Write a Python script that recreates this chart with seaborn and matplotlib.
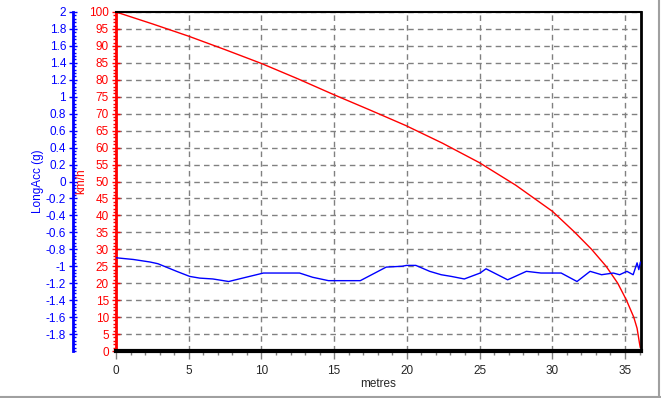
import numpy as np
import pandas as pd
import seaborn as sns
import matplotlib.pyplot as plt
from matplotlib.ticker import MultipleLocator
from matplotlib.lines import Line2D

# speed trace (km/h) vs distance
speed_m = [0, 2.5, 4.97, 7.5, 10.01, 12.5, 14.93, 17.4, 19.93, 22.45, 24.97, 27.49, 30.01,
           31.55, 32.7, 33.7, 34.5, 35.1, 35.6, 35.83, 36.0, 36.05]
speed_kmh = [100, 96.5, 92.9, 88.9, 84.8, 80.3, 75.7, 71.2, 66.5, 61.3, 55.6, 48.9, 41.2,
             35.0, 30.0, 25.0, 20.0, 15.0, 10.0, 6.7, 2.2, 1.0]

# longitudinal acceleration (g) vs distance
acc_m = [0, 1.19, 2.34, 2.88, 4.17, 5.07, 5.76, 6.66, 7.75, 8.94, 10.14, 12.62, 13.52, 14.61,
         16.8, 18.58, 19.68, 19.98, 20.62, 21.57, 22.36, 23.06, 23.95, 25.04, 25.44, 26.93,
         28.22, 29.22, 30.61, 31.7, 32.6, 33.39, 34.19, 34.63, 35.13, 35.56, 35.83, 35.95, 36.06]
acc_g = [-0.90, -0.92, -0.95, -0.97, -1.06, -1.12, -1.14, -1.15, -1.18, -1.13, -1.08, -1.08,
         -1.13, -1.17, -1.17, -1.01, -1.00, -0.99, -0.99, -1.06, -1.10, -1.12, -1.15, -1.08,
         -1.03, -1.16, -1.06, -1.08, -1.08, -1.18, -1.06, -1.10, -1.08, -1.10, -1.06, -1.10,
         -0.96, -1.04, -0.95]

acc_ticks = [-1.8, -1.6, -1.4, -1.2, -1, -0.8, -0.6, -0.4, -0.2, 0,
             0.2, 0.4, 0.6, 0.8, 1, 1.2, 1.4, 1.6, 1.8, 2]

sns.set_style('white')
plt.rcParams['font.family'] = ['Liberation Sans', 'DejaVu Sans']
plt.rcParams['font.size'] = 8.5

fig = plt.figure(figsize=(6.61, 3.98), dpi=100)
ax = fig.add_axes([116 / 661, 47 / 398, 525 / 661, 339 / 398])

speed = pd.DataFrame({'metres': speed_m, 'km/h': speed_kmh})
acc = pd.DataFrame({'metres': acc_m, 'LongAcc (g)': acc_g})

sns.lineplot(data=speed, x='metres', y='km/h', color='red', linewidth=1, ax=ax)
ax.set_xlim(0, 36.1)
ax.set_ylim(0, 100)
ax.xaxis.set_major_locator(MultipleLocator(5))
ax.xaxis.set_minor_locator(MultipleLocator(1))
ax.yaxis.set_major_locator(MultipleLocator(5))
ax.yaxis.set_minor_locator(MultipleLocator(1))
ax.grid(True, which='major', color='#808080', linestyle=(0, (4, 3)), linewidth=1)
ax.set_axisbelow(True)

ax.spines['left'].set_color('red')
ax.spines['left'].set_linewidth(2)
ax.spines['bottom'].set_linewidth(3)
ax.spines['bottom'].set_color('black')
ax.spines['top'].set_linewidth(1.5)
ax.spines['top'].set_color('black')
ax.spines['right'].set_linewidth(2)
ax.spines['right'].set_color('black')

ax.tick_params(axis='y', which='major', direction='inout', length=6, width=1,
               color='red', labelcolor='red', labelsize=8.5, pad=2, left=True)
ax.tick_params(axis='y', which='minor', direction='out', length=2, width=1,
               color='red', left=True)
ax.tick_params(axis='x', which='major', direction='out', length=6, width=1,
               color='#808080', labelsize=8.5, pad=4, bottom=True)
ax.tick_params(axis='x', which='minor', direction='out', length=3, width=1,
               color='#808080', bottom=True)
ax.set_ylabel('km/h', color='red', fontsize=8.5)
ax.yaxis.set_label_coords(-0.055, 0.5)
ax.set_xlabel('metres', fontsize=8.5, labelpad=1)

ax2 = ax.twinx()
sns.lineplot(data=acc, x='metres', y='LongAcc (g)', color='blue', linewidth=1, ax=ax2)
ax2.set_ylim(-2, 2)
ax2.yaxis.set_minor_locator(MultipleLocator(0.04))
ax2.yaxis.set_ticks_position('left')
ax2.yaxis.set_label_position('left')
ax2.spines['left'].set_position(('axes', -43 / 525))
ax2.spines['left'].set_visible(True)
ax2.spines['left'].set_color('blue')
ax2.spines['left'].set_linewidth(2)
ax2.spines['right'].set_visible(False)
ax2.spines['top'].set_visible(False)
ax2.spines['bottom'].set_visible(False)
ax2.tick_params(axis='y', which='major', direction='inout', length=6, width=1,
                color='blue', labelcolor='blue', labelsize=8.5, pad=2)
ax2.tick_params(axis='y', which='minor', direction='in', length=2, width=1, color='blue')
ax2.set_yticks(acc_ticks)
ax2.set_yticklabels([('%g' % v) for v in acc_ticks])
ax2.set_ylabel('LongAcc (g)', color='blue', fontsize=8.5)
ax2.yaxis.set_label_coords(-0.137, 0.5)
ax2.set_xlabel('')

# window border at right and bottom
fig.add_artist(Line2D([0, 1], [0.002, 0.002], transform=fig.transFigure, color='#a0a0a0', linewidth=1.5))
fig.add_artist(Line2D([0.997, 0.997], [0, 1], transform=fig.transFigure, color='#a0a0a0', linewidth=1.5))

fig.savefig('out.png', dpi=100)
